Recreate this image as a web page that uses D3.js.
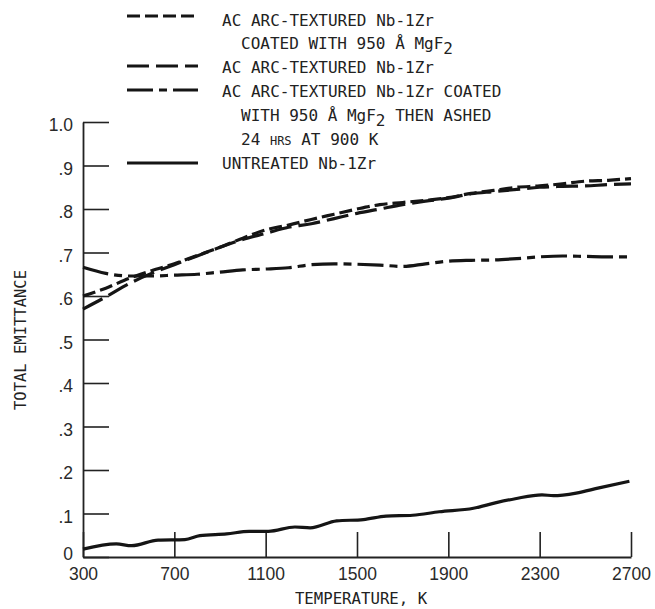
<!DOCTYPE html>
<html>
<head>
<meta charset="utf-8">
<script src="https://cdn.jsdelivr.net/npm/d3@7"></script>
<style>
  body { margin: 0; background: #fff; }
  .lbl { font-family: "DejaVu Sans Mono", monospace; fill: #222; }
  .tick text { font-family: "Liberation Sans", sans-serif; font-size: 17.5px; fill: #2a2a2a; }
</style>
</head>
<body>
<div id="viz"></div>
<script>
// dimensions of the svg
const width = 655
const height = 609

// plot area in pixels
const x0 = 83, x1 = 631
const y0 = 557, y1 = 122

// tick values
const xTicks = [300, 700, 1100, 1500, 1900, 2300, 2700]
const yTicks = [0, 0.1, 0.2, 0.3, 0.4, 0.5, 0.6, 0.7, 0.8, 0.9, 1.0]
const yTickLabels = ["0", ".1", ".2", ".3", ".4", ".5", ".6", ".7", ".8", ".9", "1.0"]

// temperatures (K) for the three upper curves
const temps = [300, 400, 500, 600, 700, 800, 900, 1000, 1100, 1200, 1300, 1400, 1500,
               1600, 1700, 1800, 1900, 2000, 2100, 2200, 2300, 2400, 2500, 2600, 2700]

// ac arc-textured Nb-1Zr coated with 950 A MgF2 (short dashes)
const coated = [0.600, 0.618, 0.640, 0.658, 0.674, 0.693, 0.712, 0.733, 0.752, 0.763, 0.776, 0.788, 0.800,
                0.810, 0.815, 0.820, 0.826, 0.836, 0.843, 0.850, 0.853, 0.858, 0.864, 0.866, 0.870]

// ac arc-textured Nb-1Zr (long dashes)
const textured = [0.570, 0.598, 0.628, 0.652, 0.672, 0.692, 0.712, 0.730, 0.744, 0.758, 0.766, 0.778, 0.790,
                  0.800, 0.810, 0.818, 0.825, 0.835, 0.840, 0.845, 0.850, 0.852, 0.853, 0.856, 0.858]

// coated then ashed 24 hrs at 900 K (dash-dot)
const ashed = [0.666, 0.652, 0.646, 0.646, 0.648, 0.650, 0.655, 0.660, 0.662, 0.665, 0.672, 0.674, 0.673,
               0.671, 0.668, 0.674, 0.680, 0.682, 0.683, 0.686, 0.690, 0.692, 0.691, 0.690, 0.690]

// untreated Nb-1Zr (solid), own temperature samples
const untreatedT = [300, 446, 513, 629, 746, 812, 929, 1028, 1112, 1228, 1295, 1411, 1528, 1627,
                    1744, 1860, 2010, 2110, 2193, 2310, 2360, 2460, 2560, 2693]
const untreated = [0.018, 0.030, 0.026, 0.039, 0.040, 0.049, 0.053, 0.059, 0.059, 0.069, 0.067, 0.083, 0.086, 0.094,
                   0.096, 0.104, 0.112, 0.125, 0.134, 0.143, 0.141, 0.147, 0.159, 0.174]

const svg = d3.select("#viz")
        .append("svg")
        .attr("width", width)
        .attr("height", height)
        .style("background", "#fff");

const x = d3.scaleLinear().domain([300, 2700]).range([x0, x1]);
const y = d3.scaleLinear().domain([0, 1]).range([y0, y1]);

// y axis, ticks point inward
const y_axis = d3.axisLeft(y)
        .tickValues(yTicks)
        .tickFormat(function (d, i) {return yTickLabels[i]})
        .tickSizeInner(-26)
        .tickSizeOuter(0)
        .tickPadding(10);

svg.append("g")
    .attr("transform", "translate(" + x0 + ",0)")
    .call(y_axis)
    .call(function (g) {
        g.select(".domain").attr("stroke", "#222").attr("stroke-width", 1.8);
        g.selectAll(".tick line").attr("stroke", "#222").attr("stroke-width", 1.6);
        // the "0" label sits a bit higher so it clears the 300 label
        g.selectAll(".tick text").attr("dy", function (d) {return d === 0 ? "0.17em" : "0.5em"});
    });

// x axis, ticks point inward
const x_axis = d3.axisBottom(x)
        .tickValues(xTicks)
        .tickFormat(d3.format("d"))
        .tickSizeInner(-25)
        .tickSizeOuter(0)
        .tickPadding(11);

svg.append("g")
    .attr("transform", "translate(0," + y0 + ")")
    .call(x_axis)
    .call(function (g) {
        g.select(".domain").attr("stroke", "#222").attr("stroke-width", 1.8);
        g.selectAll(".tick line").attr("stroke", "#222").attr("stroke-width", 1.6);
    });

// axis titles
svg.append("text")
    .attr("class", "lbl")
    .attr("font-size", 15.5)
    .attr("text-anchor", "middle")
    .attr("transform", "translate(26,340) rotate(-90)")
    .text("TOTAL EMITTANCE");

svg.append("text")
    .attr("class", "lbl")
    .attr("font-size", 15.7)
    .attr("text-anchor", "middle")
    .attr("x", 361)
    .attr("y", 604)
    .text("TEMPERATURE, K");

// line styles for each series
const series = [
    {t: temps, v: coated, dash: "13,5"},
    {t: temps, v: textured, dash: "22,7"},
    {t: temps, v: ashed, dash: "26,6,8,6"},
    {t: untreatedT, v: untreated, dash: null}
];

const line = d3.line()
        .x(function (d) {return x(d[0])})
        .y(function (d) {return y(d[1])})
        .curve(d3.curveMonotoneX);

series.forEach(function (s) {
    svg.append("path")
        .datum(d3.zip(s.t, s.v))
        .attr("d", line)
        .attr("fill", "none")
        .attr("stroke", "#151515")
        .attr("stroke-width", 3.2)
        .attr("stroke-dasharray", s.dash);
});

// legend
const legend = svg.append("g");
const legendSamples = [
    {y: 16, dash: "13,5"},
    {y: 66, dash: "22,7"},
    {y: 90, dash: "26,6,8,6"},
    {y: 163, dash: null}
];

legendSamples.forEach(function (s) {
    legend.append("line")
        .attr("x1", 127).attr("x2", 198)
        .attr("y1", s.y).attr("y2", s.y)
        .attr("stroke", "#151515")
        .attr("stroke-width", 3.2)
        .attr("stroke-dasharray", s.dash);
});

function legendText(xp, yp) {
    return legend.append("text")
        .attr("class", "lbl")
        .attr("font-size", 16)
        .attr("x", xp)
        .attr("y", yp);
}

legendText(222, 26).text("AC ARC-TEXTURED Nb-1Zr");
var t2 = legendText(241, 49);
t2.append("tspan").text("COATED WITH 950 Å MgF");
t2.append("tspan").attr("dy", 5).text("2");
legendText(222, 73).text("AC ARC-TEXTURED Nb-1Zr");
legendText(222, 97).text("AC ARC-TEXTURED Nb-1Zr COATED");
var t5 = legendText(241, 121);
t5.append("tspan").text("WITH 950 Å MgF");
t5.append("tspan").attr("dy", 5).text("2");
t5.append("tspan").attr("dy", -5).text(" THEN ASHED");
var t6 = legendText(241, 145);
t6.append("tspan").text("24 ");
t6.append("tspan").attr("font-size", 12).text("HRS");
t6.append("tspan").text(" AT 900 K");
legendText(222, 169).text("UNTREATED Nb-1Zr");
</script>
</body>
</html>
